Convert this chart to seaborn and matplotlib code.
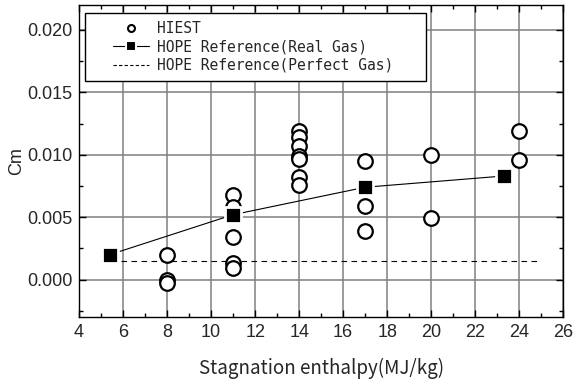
import seaborn as sns
import matplotlib.pyplot as plt
from matplotlib.lines import Line2D
from matplotlib.patches import Rectangle
from matplotlib.ticker import MultipleLocator

# HIEST test points
hiest_h = [8, 8, 8,
           11, 11, 11, 11, 11,
           14, 14, 14, 14, 14, 14, 14,
           17, 17, 17,
           20, 20,
           24, 24]
hiest_cm = [0.0020, 0.0000, -0.0003,
            0.0068, 0.0058, 0.0034, 0.0013, 0.0009,
            0.0119, 0.0114, 0.0107, 0.0099, 0.0097, 0.0082, 0.0076,
            0.0095, 0.0059, 0.0039,
            0.0100, 0.0049,
            0.0119, 0.0096]

# HOPE reference, real gas
real_h = [5.4, 11, 17, 23.3]
real_cm = [0.0020, 0.0052, 0.0074, 0.0083]

# HOPE reference, perfect gas
perf_h = [5, 25]
perf_cm = [0.0015, 0.0015]

labels = ['HIEST', 'HOPE Reference(Real Gas)', 'HOPE Reference(Perfect Gas)']

sns.set_style('ticks')
plt.rcParams['font.family'] = ['Liberation Sans', 'DejaVu Sans']

fig = plt.figure(figsize=(5.73, 3.82), dpi=100)
ax = fig.add_axes([0.138, 0.170, 0.845, 0.817])

grid_color = '#808080'
ax.xaxis.set_major_locator(MultipleLocator(2))
ax.xaxis.set_minor_locator(MultipleLocator(1))
ax.yaxis.set_major_locator(MultipleLocator(0.005))
ax.yaxis.set_minor_locator(MultipleLocator(0.0025))
ax.grid(True, which='major', color=grid_color, lw=1.1)
ax.set_axisbelow(True)

sns.lineplot(x=perf_h, y=perf_cm, ax=ax, color='black', lw=0.8,
             linestyle=(0, (5, 4)), zorder=2)
sns.scatterplot(x=hiest_h, y=hiest_cm, ax=ax, marker='o', s=110,
                facecolor='white', edgecolor='black', linewidth=1.6, zorder=3)
sns.lineplot(x=real_h, y=real_cm, ax=ax, color='black', lw=0.8,
             marker='s', markersize=11, markerfacecolor='black',
             markeredgecolor='white', markeredgewidth=2, zorder=4)

ax.set_xlim(4, 26)
ax.set_ylim(-0.003, 0.022)
ax.yaxis.set_major_formatter(plt.FormatStrFormatter('%.3f'))

ax.tick_params(which='both', direction='in', top=True, right=True,
               labelsize=13, pad=5, color='black')
ax.tick_params(which='major', length=5, width=1)
ax.tick_params(which='minor', length=3, width=1)
for sp in ax.spines.values():
    sp.set_color('black')
    sp.set_linewidth(1)

ax.set_xlabel('Stagnation enthalpy(MJ/kg)', fontsize=13.5, labelpad=12,
              family=['Noto Sans CJK JP', 'DejaVu Sans'])
ax.set_ylabel('Cm', fontsize=13, labelpad=1)

handles = [
    Line2D([], [], ls='none', marker='o', ms=5, mfc='white', mec='black', mew=1.5),
    Line2D([], [], color='black', lw=0.8, marker='s', ms=7, mfc='black',
           mec='white', mew=1.5),
    Line2D([], [], color='black', lw=0.8, linestyle=(0, (3, 2))),
]
leg = ax.legend(handles, labels, loc='upper left',
                bbox_to_anchor=(0.070, 0.949), borderaxespad=0, borderpad=0,
                frameon=False, handlelength=2.5, handletextpad=0.55,
                labelspacing=0.24, numpoints=1,
                prop={'family': 'DejaVu Sans Mono', 'size': 10.5})

# Origin-style legend frame: wider horizontal padding than vertical
fig.canvas.draw()
bb = leg.get_window_extent(fig.canvas.get_renderer())
inv = ax.transAxes.inverted()
(x0, y0), (x1, y1) = inv.transform([[bb.x0 - 28, bb.y0 - 8], [bb.x1 + 32, bb.y1 + 8]])
ax.add_patch(Rectangle((x0, y0), x1 - x0, y1 - y0, transform=ax.transAxes,
                       facecolor='white', edgecolor='black', lw=1, zorder=5))
leg.set_zorder(6)

fig.savefig('out.png', dpi=100)
